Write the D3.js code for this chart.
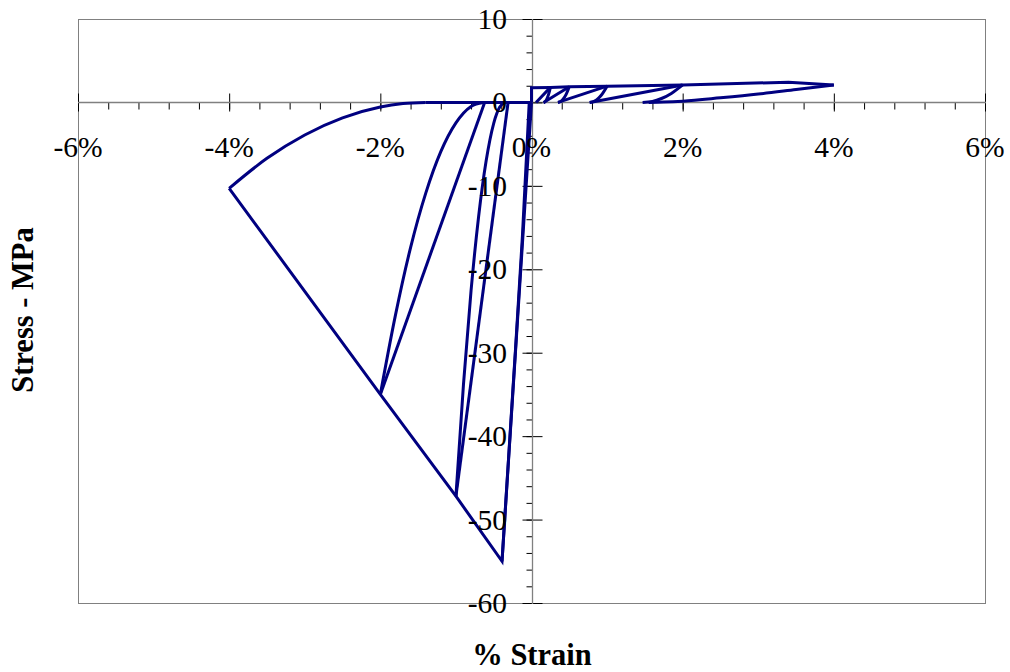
<!DOCTYPE html>
<html>
<head>
<meta charset="utf-8">
<script src="https://cdn.jsdelivr.net/npm/d3@7"></script>
<style>
  html, body { margin: 0; padding: 0; background: #ffffff; }
  svg { display: block; }
</style>
</head>
<body>
<svg id="chart" width="1010" height="672"></svg>
<script>
// ---- Data (strain in %, stress in MPa) ----
const xTickValues = [-6, -4, -2, 0, 2, 4, 6];
const yTickValues = [10, 0, -10, -20, -30, -40, -50, -60];

// straight pieces (envelopes and reloading lines)
const compressionEnvelope = [[0, 0], [-0.39, -55], [-1, -47.2], [-2, -35], [-4, -10.3]];
const compressionReload2 = [[-0.31, 0], [-1, -47.2]];
const compressionReload3 = [[-0.62, 0], [-2, -35]];
const compressionResidual = [[-1.4, 0], [0, 0]];
const tensionEnvelope = [[0, 0], [0, 1.75], [0.25, 1.8], [0.5, 1.87], [1, 1.95], [2, 2.1], [3.4, 2.42], [4, 2.1]];
const tensionLoad1 = [[0.06, 0], [0.25, 1.8]];
const tensionLoad2 = [[0.16, 0], [0.5, 1.87]];
const tensionLoad3 = [[0.35, 0], [1, 1.95]];
const tensionLoad4 = [[0.77, 0], [2, 2.1]];

// curved unloading branches
const compressionUnload1 = [[-0.39, -55], [-0.25, -35], [-0.12, -16], [-0.03, 0]];
const compressionUnload2 = [[-1, -47.2], [-0.9, -33.8], [-0.8, -22.6], [-0.7, -13.7], [-0.6, -7.0], [-0.5, -2.5], [-0.42, -0.55], [-0.35, 0]];
const compressionUnload3 = [[-2, -35], [-1.8, -25.5], [-1.6, -17.4], [-1.4, -10.9], [-1.2, -5.9], [-1.0, -2.45], [-0.8, -0.48], [-0.64, 0]];
const compressionUnload4 = [[-4, -10.3], [-3.5, -6.7], [-3, -3.9], [-2.5, -1.85], [-2, -0.55], [-1.7, -0.14], [-1.4, 0]];
const tensionUnload1 = [[0.25, 1.8], [0.23, 1.09], [0.21, 0.56], [0.19, 0.2], [0.17, 0.02], [0.16, 0]];
const tensionUnload2 = [[0.5, 1.87], [0.46, 1.0], [0.42, 0.41], [0.39, 0.13], [0.36, 0.01], [0.35, 0]];
const tensionUnload3 = [[1, 1.95], [0.92, 0.83], [0.86, 0.3], [0.81, 0.06], [0.77, 0]];
const tensionUnload4 = [[2, 2.1], [1.85, 1.08], [1.72, 0.47], [1.6, 0.12], [1.47, 0]];
const tensionUnload5 = [[4, 2.1], [3.5, 1.55], [3, 1.0], [2.5, 0.55], [2, 0.15], [1.75, 0.04], [1.55, 0]];

const straightSegments = [
  compressionEnvelope, compressionReload2, compressionReload3, compressionResidual,
  tensionEnvelope, tensionLoad1, tensionLoad2, tensionLoad3, tensionLoad4
];
const curvedSegments = [
  compressionUnload1, compressionUnload2, compressionUnload3, compressionUnload4,
  tensionUnload1, tensionUnload2, tensionUnload3, tensionUnload4, tensionUnload5
];

// ---- Layout ----
const svg = d3.select("#chart");
const plot = { left: 78, right: 985, top: 19, bottom: 603 };
const x = d3.scaleLinear().domain([-6, 6]).range([plot.left, plot.right]);
const y = d3.scaleLinear().domain([-60, 10]).range([plot.bottom, plot.top]);
const axisColor = "#808080";
const serif = "'Liberation Serif', 'Times New Roman', serif";

// plot frame
svg.append("rect")
  .attr("x", plot.left + 0.5).attr("y", plot.top + 0.5)
  .attr("width", plot.right - plot.left).attr("height", plot.bottom - plot.top)
  .attr("fill", "none").attr("stroke", axisColor).attr("stroke-width", 1);

// x axis through y = 0
const x0 = Math.round(y(0)) + 0.5;
const xMinor = d3.range(-6, 6.0001, 0.4).map(v => +v.toFixed(2));
svg.append("g").attr("transform", `translate(0,${x0})`)
  .call(d3.axisBottom(x).tickValues(xMinor).tickSize(7).tickFormat(""))
  .call(g => g.select(".domain").remove())
  .call(g => g.selectAll("line").attr("stroke", "#000").attr("stroke-width", 1));
svg.append("g").attr("transform", `translate(0,${x0})`)
  .call(d3.axisBottom(x).tickValues(xTickValues).tickSize(9).tickFormat(""))
  .call(g => g.select(".domain").remove())
  .call(g => g.selectAll("line").attr("y1", -9).attr("stroke", "#000").attr("stroke-width", 1));
svg.append("line").attr("x1", plot.left).attr("x2", plot.right + 1).attr("y1", x0).attr("y2", x0)
  .attr("stroke", axisColor).attr("stroke-width", 1.3);

// y axis through x = 0
const y0 = Math.round(x(0)) + 0.5;
const yMinor = d3.range(-60, 10.0001, 2).map(v => +v.toFixed(2));
svg.append("g").attr("transform", `translate(${y0},0)`)
  .call(d3.axisLeft(y).tickValues(yMinor).tickSize(6).tickFormat(""))
  .call(g => g.select(".domain").remove())
  .call(g => g.selectAll("line").attr("stroke", "#000").attr("stroke-width", 1));
svg.append("g").attr("transform", `translate(${y0},0)`)
  .call(d3.axisLeft(y).tickValues(yTickValues).tickSize(10).tickFormat(""))
  .call(g => g.select(".domain").remove())
  .call(g => g.selectAll("line").attr("x2", 10).attr("x1", -10).attr("stroke", "#000").attr("stroke-width", 1));
svg.append("line").attr("x1", y0).attr("x2", y0).attr("y1", plot.top).attr("y2", plot.bottom + 1)
  .attr("stroke", axisColor).attr("stroke-width", 1.3);

// data lines
const lineStraight = d3.line().x(d => x(d[0])).y(d => y(d[1]));
const lineCurved = d3.line().x(d => x(d[0])).y(d => y(d[1])).curve(d3.curveMonotoneX);
const dataG = svg.append("g").attr("fill", "none").attr("stroke", "#000080")
  .attr("stroke-width", 3).attr("stroke-linejoin", "miter").attr("stroke-miterlimit", 10);
dataG.selectAll("path.s").data(straightSegments).join("path").attr("class", "s").attr("d", lineStraight);
dataG.selectAll("path.c").data(curvedSegments).join("path").attr("class", "c")
  .attr("d", d => lineCurved(d.slice().sort((a, b) => a[0] - b[0])));

// tick labels
svg.append("g").selectAll("text").data(xTickValues).join("text")
  .attr("x", d => x(d)).attr("y", 157)
  .attr("text-anchor", "middle")
  .attr("font-family", serif).attr("font-size", 29.5).attr("fill", "#000")
  .text(d => `${d}%`);
svg.append("g").selectAll("text").data(yTickValues).join("text")
  .attr("x", 507).attr("y", d => y(d) + 10)
  .attr("text-anchor", "end")
  .attr("font-family", serif).attr("font-size", 29.5).attr("fill", "#000")
  .text(d => `${d}`);

// axis titles
svg.append("text").attr("x", 532).attr("y", 665)
  .attr("text-anchor", "middle").attr("font-family", serif).attr("font-weight", "bold")
  .attr("font-size", 30.5).attr("fill", "#000").text("% Strain");
svg.append("text").attr("transform", "translate(33,310) rotate(-90)")
  .attr("text-anchor", "middle").attr("font-family", serif).attr("font-weight", "bold")
  .attr("font-size", 30.5).attr("fill", "#000").text("Stress - MPa");
</script>
</body>
</html>
